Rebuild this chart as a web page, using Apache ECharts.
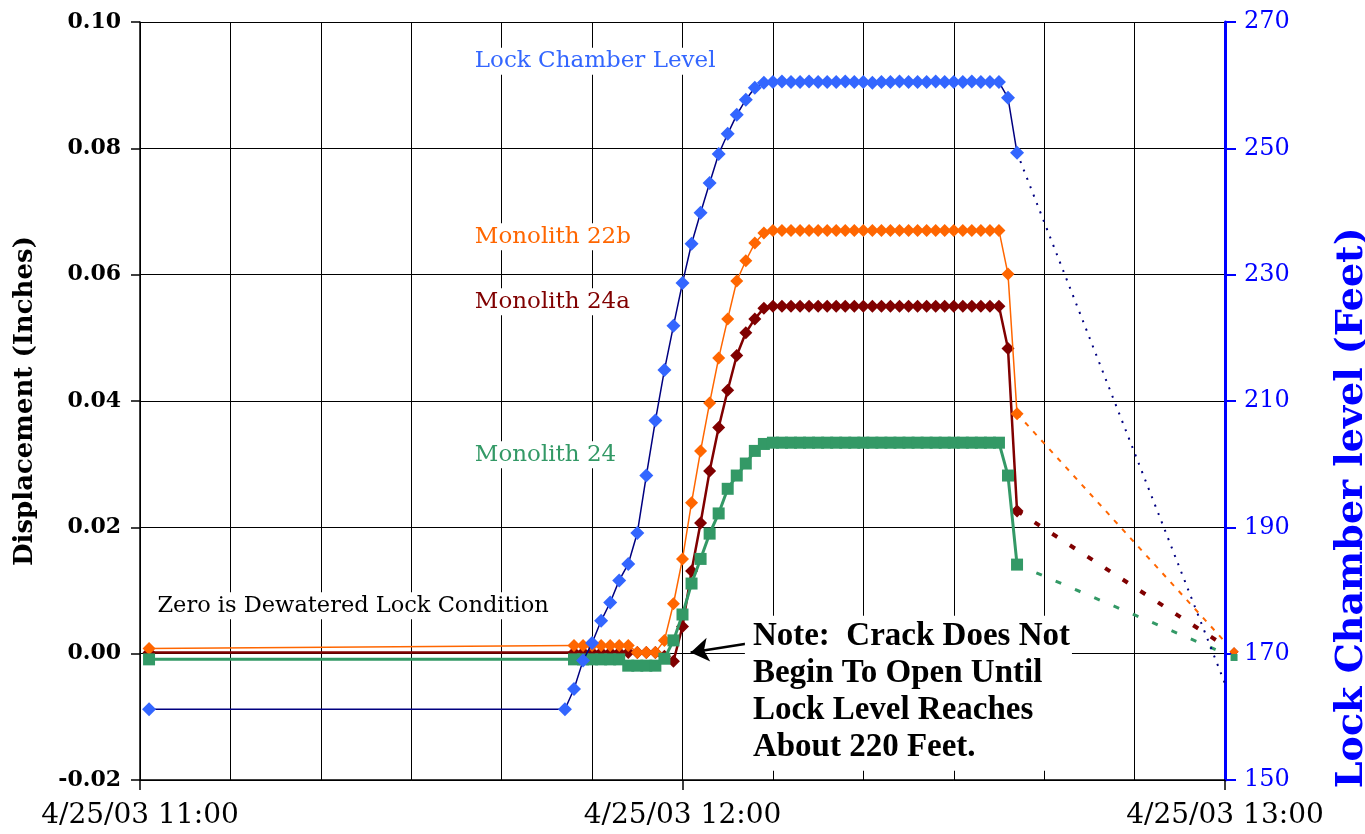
<!DOCTYPE html>
<html><head><meta charset="utf-8">
<script src="https://cdn.jsdelivr.net/npm/echarts@6/dist/echarts.min.js"></script>
<style>html,body{margin:0;padding:0;background:#fff}#c{width:1365px;height:834px}</style>
</head><body><div id="c"></div>
<script>
// minutes after 4/25/03 11:00
const minutes = [1,47,48,49,50,51,52,53,54,55,56,57,58,59,60,61,62,63,64,65,66,67,68,69,
  70,71,72,73,74,75,76,77,78,79,80,81,82,83,84,85,86,87,88,89,90,91,92,93,94,95,96,97];

// Lock chamber level (feet)
const lockLevel = [161.2,161.2,164.4,168.9,171.7,175.2,178.1,181.6,184.2,189.1,198.2,206.9,214.9,221.9,228.7,234.9,239.8,244.5,249.1,252.3,255.3,257.7,259.6,260.4,
  260.5,260.6,260.5,260.5,260.6,260.5,260.5,260.5,260.6,260.5,260.5,260.4,260.5,260.5,260.6,260.5,260.5,260.5,260.6,260.5,260.5,260.5,260.6,260.5,260.5,260.5,
  258.0,249.3];

// Displacement (inches)
const mono22b = [0.0008,null,0.0013,0.0013,0.0013,0.0013,0.0013,0.0013,0.0013,0.0002,0.0002,0.0002,
  0.0021,0.0079,0.0150,0.0239,0.0321,0.0397,0.0468,0.0530,0.0590,0.0622,0.0650,0.0666,
  0.0670,0.0670,0.0670,0.0670,0.0670,0.0670,0.0670,0.0670,0.0670,0.0670,0.0670,0.0670,0.0670,
  0.0670,0.0670,0.0670,0.0670,0.0670,0.0670,0.0670,0.0670,0.0670,0.0670,0.0670,0.0670,0.0670,
  0.0601,0.0380];
const mono24a = [0.0002,null,0.0002,0.0002,0.0002,0.0002,0.0002,0.0002,0.0002,0.0002,0.0002,0.0002,
  -0.0004,-0.0012,0.0043,0.0131,0.0207,0.0289,0.0358,0.0417,0.0472,0.0508,0.0530,0.0547,
  0.0550,0.0550,0.0550,0.0550,0.0550,0.0550,0.0550,0.0550,0.0550,0.0550,0.0550,0.0550,0.0550,
  0.0550,0.0550,0.0550,0.0550,0.0550,0.0550,0.0550,0.0550,0.0550,0.0550,0.0550,0.0550,0.0550,
  0.0483,0.0226];
const mono24 = [-0.0009,null,-0.0009,-0.0009,-0.0009,-0.0009,-0.0009,-0.0009,-0.0019,-0.0019,-0.0019,-0.0019,
  -0.0008,0.0021,0.0062,0.0111,0.0150,0.0190,0.0222,0.0261,0.0282,0.0301,0.0321,0.0332,
  0.0334,0.0334,0.0334,0.0334,0.0334,0.0334,0.0334,0.0334,0.0334,0.0334,0.0334,0.0334,0.0334,
  0.0334,0.0334,0.0334,0.0334,0.0334,0.0334,0.0334,0.0334,0.0334,0.0334,0.0334,0.0334,0.0334,
  0.0282,0.0141];

// dotted tails to the final reading
const tailMinutes = [97,121];
const lockTail = [249.3,161.6];
const mono22bTail = [0.0380,0.0003];
const mono24aTail = [0.0226,0.0003];
const mono24Tail = [0.0141,-0.0006];

const xTickLabels = {0:'4/25/03 11:00',60:'4/25/03 12:00',120:'4/25/03 13:00'};

const SERIF = '"DejaVu Serif", serif';

function pairs(xs, ys){ const out=[]; xs.forEach((x,i)=>{ if(ys[i]!==null) out.push([x,ys[i]]); }); return out; }
function tail(xs, ys, sym, size){ return xs.map((x,i)=>({value:[x,ys[i]], symbol: i===xs.length-1 ? sym : 'none', symbolSize:size})); }

const chart = echarts.init(document.getElementById('c'), null, {renderer:'canvas'});
const option = {
  animation:false,
  backgroundColor:'#fff',
  grid:{left:140,right:140,top:22,bottom:54,containLabel:false},
  xAxis:[
    {type:'value',min:0,max:120,interval:60,position:'bottom',
     axisLine:{show:true,onZero:false,lineStyle:{color:'#000',width:1.5}},
     axisTick:{show:true,length:10,lineStyle:{color:'#000',width:1.5}},
     axisLabel:{show:true,margin:22,color:'#000',fontFamily:SERIF,fontSize:28,
       showMinLabel:true,showMaxLabel:true,formatter:v=>xTickLabels[v]||''},
     splitLine:{show:false}},
    {type:'value',min:0,max:120,interval:10,position:'bottom',
     axisLine:{show:false,onZero:false},axisTick:{show:false},axisLabel:{show:false},
     splitLine:{show:true,lineStyle:{color:'#000',width:1}}}
  ],
  yAxis:[
    {type:'value',min:-0.02,max:0.10,interval:0.02,position:'left',
     axisLine:{show:true,onZero:false,lineStyle:{color:'#000',width:1.5}},
     axisTick:{show:true,length:9,lineStyle:{color:'#000',width:1.5}},
     axisLabel:{color:'#000',fontFamily:SERIF,fontWeight:'bold',fontSize:22,margin:19,
       showMinLabel:true,showMaxLabel:true,formatter:v=>v.toFixed(2)},
     splitLine:{show:true,lineStyle:{color:'#000',width:1}},
     name:'Displacement (Inches)',nameLocation:'middle',nameGap:102,nameRotate:90,
     nameTextStyle:{color:'#000',fontFamily:SERIF,fontWeight:'bold',fontSize:26}},
    {type:'value',min:150,max:270,interval:20,position:'right',
     axisLine:{show:true,onZero:false,lineStyle:{color:'#0000FF',width:3}},
     axisTick:{show:true,length:11,lineStyle:{color:'#0000FF',width:2}},
     axisLabel:{color:'#0000FF',fontFamily:SERIF,fontSize:24,margin:19,
       showMinLabel:true,showMaxLabel:true},
     splitLine:{show:false}}
  ],
  series:[
    {name:'Monolith 24a',type:'line',yAxisIndex:0,data:pairs(minutes,mono24a),connectNulls:true,
     symbol:'diamond',symbolSize:13,lineStyle:{color:'#800000',width:2.5},
     itemStyle:{color:'#800000'},z:3,clip:false},
    {name:'Monolith 22b',type:'line',yAxisIndex:0,data:pairs(minutes,mono22b),connectNulls:true,
     symbol:'diamond',symbolSize:13,lineStyle:{color:'#FF6600',width:1.5},
     itemStyle:{color:'#FF6600'},z:4,clip:false},
    {name:'Monolith 24',type:'line',yAxisIndex:0,data:pairs(minutes,mono24),connectNulls:true,
     symbol:'rect',symbolSize:12,lineStyle:{color:'#339966',width:3},
     itemStyle:{color:'#339966'},z:5,clip:false},
    {name:'Lock Chamber Level',type:'line',yAxisIndex:1,data:pairs(minutes,lockLevel),connectNulls:true,
     symbol:'diamond',symbolSize:14,lineStyle:{color:'#000080',width:1.5},
     itemStyle:{color:'#3366FF'},z:6,clip:false},
    {name:'24a tail',type:'line',yAxisIndex:0,data:tail(tailMinutes,mono24aTail,'diamond',9),
     lineStyle:{color:'#800000',width:4,type:[6,15]},itemStyle:{color:'#800000'},z:3,clip:false},
    {name:'22b tail',type:'line',yAxisIndex:0,data:tail(tailMinutes,mono22bTail,'diamond',9),
     lineStyle:{color:'#FF6600',width:2,type:[5,7]},itemStyle:{color:'#FF6600'},z:4,clip:false},
    {name:'24 tail',type:'line',yAxisIndex:0,data:tail(tailMinutes,mono24Tail,'rect',7),
     lineStyle:{color:'#339966',width:3,type:[6,15]},itemStyle:{color:'#339966'},z:5,clip:false},
    {name:'lock tail',type:'line',yAxisIndex:1,data:tail(tailMinutes,lockTail,'none',0),
     lineStyle:{color:'#000080',width:2,type:[2,7]},itemStyle:{color:'#000080'},z:6,clip:false},
    {name:'note arrow',type:'line',yAxisIndex:0,data:[],z:12,
     markLine:{silent:true,symbol:['none','arrow'],symbolSize:18,label:{show:false},
       lineStyle:{color:'#000',width:2.5,type:'solid'},itemStyle:{color:'#000'},
       data:[[{coord:[68.1,0.0018]},{coord:[60.9,0.0002]}]]}}
  ]
};
chart.setOption(option);

const labels = [
  {text:'Lock Chamber Level', x:36.7, y:0.0938, color:'#3366FF'},
  {text:'Monolith 22b', x:36.7, y:0.0660, color:'#FF6600'},
  {text:'Monolith 24a', x:36.7, y:0.0557, color:'#800000'},
  {text:'Monolith 24', x:36.7, y:0.0315, color:'#339966'},
  {text:'Zero is Dewatered Lock Condition', x:1.6, y:0.0076, color:'#000000', size:22.5}
];
const px = (x,y)=>chart.convertToPixel({xAxisIndex:0,yAxisIndex:0},[x,y]);
const graphics = labels.map(l=>{
  const p = px(l.x,l.y);
  return {type:'text',x:p[0],y:p[1],z:10,
    style:{text:l.text,fill:l.color,font:(l.size||23)+'px '+SERIF,textAlign:'left',textVerticalAlign:'middle',
      backgroundColor:'#fff',padding:[2,3]}};
});
const np = px(66.9,0.0060);
graphics.push({type:'text',x:np[0],y:np[1],z:10,
  style:{text:'Note:  Crack Does Not\nBegin To Open Until\nLock Level Reaches\nAbout 220 Feet.',
    fill:'#000',font:'bold 33px "Liberation Serif", serif',lineHeight:37,textAlign:'left',textVerticalAlign:'top',
    backgroundColor:'#fff',padding:[2,2,5,8]}});
const rp = chart.convertToPixel({xAxisIndex:0,yAxisIndex:1},[120,193.1]);
graphics.push({type:'text',x:rp[0]+127,y:rp[1],rotation:Math.PI/2,z:10,
  style:{text:'Lock Chamber level (Feet)',fill:'#0000FF',font:'bold 38px '+SERIF,
    textAlign:'center',textVerticalAlign:'middle'}});
chart.setOption({graphic:graphics});
</script></body></html>
